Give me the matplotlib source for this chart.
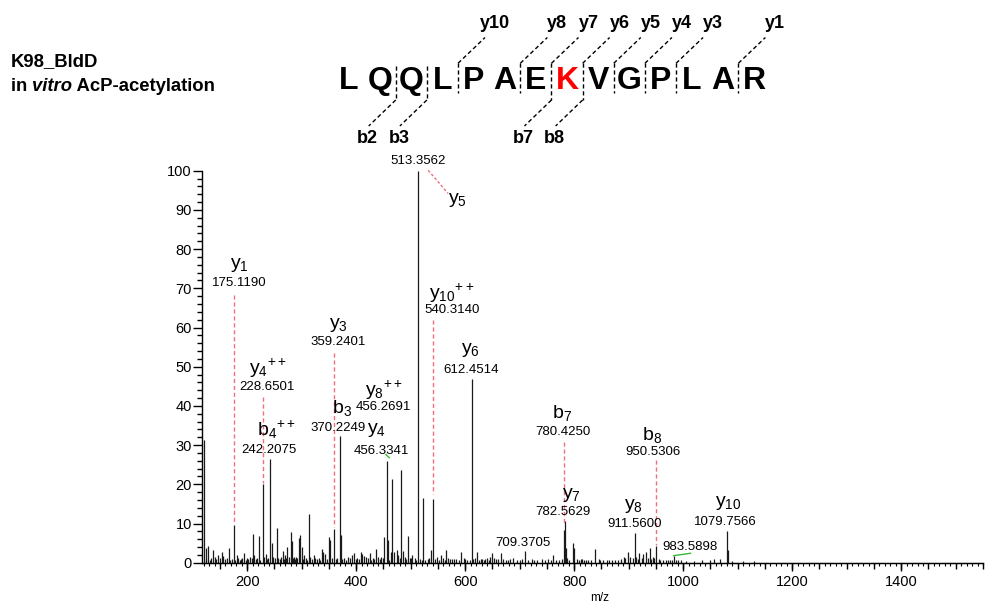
import matplotlib
matplotlib.use("Agg")
import matplotlib.pyplot as plt
from matplotlib.lines import Line2D
from matplotlib.ticker import MultipleLocator

plt.rcParams['font.family'] = ['Liberation Sans', 'DejaVu Sans']
plt.rcParams['mathtext.fontset'] = 'custom'
plt.rcParams['mathtext.rm'] = 'Liberation Sans'
plt.rcParams['mathtext.it'] = 'Liberation Sans:italic'
plt.rcParams['mathtext.bf'] = 'Liberation Sans:bold'

# ---------------- data ----------------
peak_mz = [121.0, 123.8, 125, 128.6, 131, 134, 137.0, 140.7, 143, 147.0, 150, 153.0, 156, 159, 162,
           166.0, 169, 172, 175.1190, 178, 180.6, 183, 186, 189, 191, 194.0, 197, 200, 202, 205, 208,
           210.0, 213, 216, 218, 221.0, 224, 228.6501, 231, 234, 237, 239, 242.2075, 244.8, 248, 251,
           254.0, 257, 260, 262, 265, 267, 269, 271, 273.5, 276, 279.6, 282.0, 284, 286, 288, 290, 292,
           294.9, 297.3, 299.8, 302, 304, 307, 310, 312.6, 316, 319, 322, 325, 328, 331, 333, 336.5,
           339, 343, 346, 349.3, 352.3, 355, 359.2401, 362, 365, 370.2249, 371.5, 374, 378, 381, 384,
           388, 392.6, 396.3, 399, 402, 405, 408, 410, 414, 418, 421, 425.7, 427, 430, 433, 436, 440,
           443, 446, 449, 451.3, 456.3341, 457.5, 461, 463, 466.5, 469, 474, 477, 480, 483.0, 485, 489,
           492, 495.4, 498, 501, 503, 507, 510, 513.3562, 517, 520, 522.3, 526, 531, 534, 537,
           540.3140, 545, 549, 552, 555.3, 559, 562, 564, 568, 572, 575, 580, 583, 588, 593, 597, 600,
           604, 609, 612.4514, 614, 618, 622, 625, 628, 631, 634, 637, 640, 643, 645, 649.4, 652, 657,
           661, 665.3, 670, 674, 678, 683, 687, 695, 700, 704, 709.3705, 715, 722, 727, 732, 741, 746,
           752, 757, 761, 767, 772, 777, 780.4250, 782.5629, 784, 787, 791, 797.5, 800, 805, 808, 812,
           815, 818, 821, 826, 830, 838.5, 845, 848, 852, 860, 864, 869, 875, 880, 886, 891, 893,
           898.8, 903, 907, 911.5600, 914, 917, 919.7, 924, 927, 932.5, 935, 938.6, 941, 944, 947,
           950.5306, 955, 958, 962, 968, 972, 975, 979, 983.5898, 987, 990, 996, 1005, 1020, 1035,
           1050, 1057, 1068, 1079.7566, 1081.5, 1090, 1110, 1130]
peak_int = [31.3, 3.7, 1.0, 4.3, 0.8, 1.2, 3.3, 1.5, 0.9, 2.0, 1.1, 2.8, 1.8, 0.9, 1.2,
            3.7, 0.8, 1.0, 9.6, 0.7, 2.0, 1.1, 0.8, 0.9, 1.3, 2.6, 0.8, 1.2, 0.9, 1.5, 1.1,
            7.2, 2.0, 0.9, 1.3, 6.7, 0.8, 20.1, 1.5, 2.2, 1.0, 1.3, 26.5, 4.9, 1.5, 1.2,
            8.9, 1.1, 1.0, 1.4, 3.0, 0.9, 2.0, 1.1, 4.1, 1.5, 7.8, 5.6, 1.2, 1.5, 0.9, 1.5, 1.3,
            6.2, 7.0, 3.9, 1.0, 2.0, 1.2, 0.8, 12.4, 1.5, 0.9, 2.0, 1.1, 1.0, 1.2, 0.8, 3.4,
            2.8, 2.3, 1.0, 6.6, 5.8, 1.1, 8.6, 0.9, 1.2, 32.3, 7.1, 1.0, 1.1, 0.8, 1.5,
            1.2, 2.0, 2.6, 0.9, 1.1, 1.0, 2.8, 2.3, 1.7, 1.4, 1.2, 2.6, 0.8, 1.1, 1.0, 3.5, 1.5,
            0.9, 1.5, 1.1, 6.6, 26.0, 5.8, 0.7, 2.8, 21.3, 2.8, 3.2, 2.0, 1.2, 23.6, 3.0, 1.5,
            1.0, 6.8, 1.1, 1.1, 2.0, 1.1, 0.8, 100.0, 1.0, 0.8, 16.4, 0.7, 0.9, 1.1, 3.2,
            16.2, 0.9, 1.5, 0.7, 2.0, 1.2, 0.8, 3.2, 1.1, 0.9, 0.9, 1.0, 0.9, 0.8, 2.8, 1.2, 0.9,
            0.7, 0.7, 46.8, 0.9, 1.2, 2.8, 0.8, 0.9, 1.0, 0.7, 0.9, 1.1, 0.8, 1.5, 2.6, 1.1, 1.0,
            0.9, 2.6, 0.9, 0.8, 0.7, 0.9, 1.1, 0.7, 0.8, 1.0, 2.9, 0.7, 0.9, 0.8, 0.7, 0.9, 0.7,
            0.9, 0.8, 2.0, 0.8, 0.7, 1.0, 8.3, 10.6, 3.7, 1.2, 0.8, 5.1, 3.7, 1.0, 0.8, 0.9,
            0.9, 0.7, 0.7, 0.8, 0.8, 3.4, 0.9, 0.7, 0.7, 0.8, 0.6, 0.7, 0.7, 0.8, 0.9, 1.4, 1.1,
            2.8, 1.5, 1.1, 7.6, 1.4, 1.0, 2.6, 1.2, 2.2, 2.8, 1.2, 3.7, 1.0, 1.5, 1.1,
            4.3, 0.9, 0.7, 0.8, 0.7, 0.6, 0.8, 0.8, 1.6, 0.7, 0.6, 0.6, 0.5, 0.5, 0.6,
            0.8, 1.0, 0.9, 8.2, 3.2, 0.5, 0.4, 0.4]

# annotated ions: label, m/z text
ion_labels = [r'$\mathregular{y_{1}}$', r'$\mathregular{y_{4}{}^{++}}$', r'$\mathregular{b_{4}{}^{++}}$',
              r'$\mathregular{y_{3}}$', r'$\mathregular{b_{3}}$', r'$\mathregular{y_{8}{}^{++}}$',
              r'$\mathregular{y_{4}}$', r'$\mathregular{y_{10}{}^{++}}$', r'$\mathregular{y_{6}}$',
              r'$\mathregular{b_{7}}$', r'$\mathregular{y_{7}}$', r'$\mathregular{b_{8}}$',
              r'$\mathregular{y_{8}}$', r'$\mathregular{y_{10}}$', r'$\mathregular{y_{5}}$']
ion_mz_text = ['175.1190', '228.6501', '242.2075', '359.2401', '370.2249', '456.2691',
               '456.3341', '540.3140', '612.4514', '780.4250', '782.5629', '950.5306',
               '911.5600', '1079.7566', None]
# label anchor positions (m/z, ion-label y, m/z-text y)
ion_pos = [(185, 75.9, 71.4), (238, 49.6, 44.9), (254, 33.9, 28.7), (368, 60.6, 56.4),
           (373, 39.4, 34.3), (450, 44.0, 39.6), (437, 33.9, 28.6), (575, 68.7, 64.5),
           (609, 54.3, 49.2), (777, 38.1, 33.4), (795, 17.3, 13.0), (942, 32.6, 28.3),
           (908, 14.5, 9.9), (1082, 15.2, 10.5), (585, 92.5, None)]
ion_mz_x = [185, 237, 239, 367, 367, 450, 446.5, 575, 610, 778.5, 780, 945, 910, 1078, None]

# plain m/z labels
extra_mz = [513.3562, 709.3705, 983.5898]
extra_pos = [(513.3562, 102.4), (706, 4.9), (1013, 3.9)]

# red dashed connectors (x, y from, y to)
red_lines = [(175.1190, 68.4, 10.2), (228.6501, 42.3, 20.3), (359.2401, 53.4, 9.0),
             (540.3140, 61.9, 17.5), (780.4250, 30.9, 9.6), (950.5306, 26.2, 4.5)]

# peptide
sequence = list("LQQLPAEKVGPLAR")
modified_index = 7
y_ions = [(10, 3), (8, 5), (7, 6), (6, 7), (5, 8), (4, 9), (3, 10), (1, 12)]   # (ion number, cut after index)
b_ions = [(2, 1), (3, 2), (7, 6), (8, 7)]

# ---------------- figure ----------------
W, H = 985, 607
fig = plt.figure(figsize=(W / 100, H / 100), dpi=100)
ax = fig.add_axes([202 / W, 1 - 562.7 / H, (983 - 202) / W, (562.7 - 170.7) / H])

ax.vlines(peak_mz, 0, peak_int, color='#1a1a1a', lw=0.9)
ax.set_xlim(117, 1550)
ax.set_ylim(0, 100)
for s in ['top', 'right']:
    ax.spines[s].set_visible(False)
ax.spines['left'].set_linewidth(1.0)
ax.spines['bottom'].set_linewidth(1.0)

ax.yaxis.set_major_locator(MultipleLocator(10))
ax.yaxis.set_minor_locator(MultipleLocator(2))
ax.xaxis.set_major_locator(MultipleLocator(200))
ax.xaxis.set_minor_locator(MultipleLocator(10))
ax.tick_params(axis='y', which='major', length=6.3, width=1.0, pad=1, labelsize=10.5)
ax.tick_params(axis='y', which='minor', length=3.8, width=1.0)
ax.tick_params(axis='x', which='major', length=5.8, width=1.0, pad=3, labelsize=10.5)
ax.tick_params(axis='x', which='minor', length=1.8, width=0.8)

sec = ax.secondary_xaxis('bottom')
sec.xaxis.set_major_locator(MultipleLocator(50))
sec.tick_params(axis='x', which='major', length=4.1, width=1.0, labelbottom=False)
sec.xaxis.set_minor_locator(MultipleLocator(1000))
sec.tick_params(axis='x', which='minor', length=0)

fig.text(600 / W, 1 - 598 / H, 'm/z', fontsize=8.5, ha='center', va='center')

red = '#f07080'
for x, y0, y1 in red_lines:
    ax.plot([x, x], [y0, y1], color=red, lw=1.0, ls=(0, (3, 2)), clip_on=False)
ax.plot([532, 568.7], [100.1, 94.2], color=red, lw=1.0, ls=(0, (2, 1.5)), clip_on=False)

green = '#33bb33'
ax.plot([982.6, 1013.2], [1.8, 2.4], color=green, lw=1.0, clip_on=False)
ax.plot([454.5, 460.5], [27.6, 26.8], color=green, lw=1.0, clip_on=False)

for lab, mzt, (lx, ly, my), mx in zip(ion_labels, ion_mz_text, ion_pos, ion_mz_x):
    ax.text(lx, ly, lab, fontsize=14, ha='center', va='center', clip_on=False)
    if mzt is not None:
        ax.text(mx, my, mzt, fontsize=9.5, ha='center', va='center', clip_on=False)

for val, (x, y) in zip(extra_mz, extra_pos):
    ax.text(x, y, f'{val:.4f}', fontsize=9.5, ha='center', va='center', clip_on=False)

# ---------------- title ----------------
fig.text(11 / W, 1 - 61.5 / H, 'K98_BldD', fontsize=13.3, fontweight='bold', ha='left', va='center')
renderer = fig.canvas.get_renderer()
xcur = 11 / W
ycur = 1 - 86.5 / H
for txt, st in [('in ', 'normal'), ('vitro', 'italic'), (' AcP-acetylation', 'normal')]:
    t = fig.text(xcur, ycur, txt, fontsize=13.3, fontweight='bold', fontstyle=st, ha='left', va='center')
    bb = t.get_window_extent(renderer)
    xcur = bb.x1 / W

# ---------------- peptide ----------------
x0, step = 349, 31.15
yc = 81.3
for i, aa in enumerate(sequence):
    fig.text((x0 + i * step) / W, 1 - yc / H, aa, fontsize=23, fontweight='bold',
             color='#ff0000' if i == modified_index else 'black', ha='center', va='center')

def fl(xs, ys):
    fig.add_artist(Line2D([x / W for x in xs], [1 - y / H for y in ys], color='black',
                          lw=1.0, ls=(0, (3, 2)), transform=fig.transFigure))

cuts_y = {c: n for n, c in y_ions}
cuts_b = {c: n for n, c in b_ions}
for c in sorted(set(cuts_y) | set(cuts_b)):
    xs = x0 + (c + 0.5) * step
    top = 63.3
    bot = 100 if c in cuts_b else 93
    fl([xs, xs], [top if c in cuts_y else 66, bot])
    if c in cuts_y:
        fl([xs, xs + 27], [top, 37.5])
        fig.text((xs + 37) / W, 1 - 23.3 / H, f'y{cuts_y[c]}', fontsize=13, fontweight='bold',
                 ha='center', va='center')
    if c in cuts_b:
        fl([xs, xs - 27], [bot, 126])
        fig.text((xs - 28) / W, 1 - 138.3 / H, f'b{cuts_b[c]}', fontsize=13, fontweight='bold',
                 ha='center', va='center')

fig.savefig('out.png', dpi=100)
